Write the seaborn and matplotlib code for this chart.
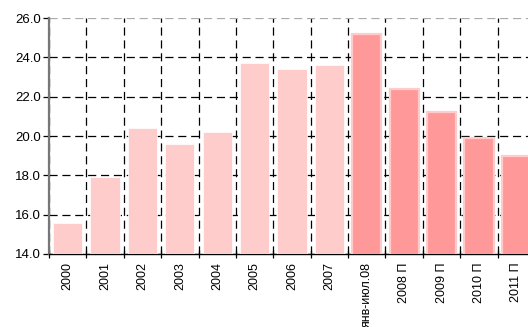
import matplotlib
matplotlib.use("Agg")
import matplotlib.pyplot as plt
import seaborn as sns
import pandas as pd
import numpy as np
from matplotlib.ticker import FormatStrFormatter, MultipleLocator

periods = ["2000", "2001", "2002", "2003", "2004", "2005", "2006", "2007",
           "янв-июл.08", "2008 П", "2009 П", "2010 П", "2011 П"]
values = [15.6, 17.9, 20.4, 19.6, 20.2, 23.7, 23.4, 23.6,
          25.2, 22.4, 21.2, 19.9, 19.0]
is_forecast = [False] * 8 + [True] * 5

fact_color = "#FFCCCC"
forecast_color = "#FF9999"

df = pd.DataFrame({"period": periods, "value": values})
colors = [forecast_color if f else fact_color for f in is_forecast]

sns.set_style("white")
plt.rcParams["font.family"] = ["Liberation Sans", "DejaVu Sans"]

fig = plt.figure(figsize=(5.28, 3.27), dpi=100)
ax = fig.add_axes([49 / 528, 73 / 327, 486 / 528, 236 / 327])

sns.barplot(data=df, x="period", y="value", hue="period", palette=colors,
            legend=False, width=0.78, ax=ax, saturation=1)

for patch, f in zip(ax.patches, is_forecast):
    if f:
        patch.set_edgecolor(fact_color)
        patch.set_linewidth(1.6)
    else:
        patch.set_edgecolor("white")
        patch.set_linewidth(0.5)
    patch.set_zorder(3)

ax.set_ylim(14, 26)
ax.set_xlim(-0.5, len(periods) - 0.5)
ax.yaxis.set_major_locator(MultipleLocator(2))
ax.yaxis.set_major_formatter(FormatStrFormatter("%.1f"))

ax.set_xticks(np.arange(-0.5, len(periods), 1.0), minor=True)
ax.set_xticks(range(len(periods)))
ax.set_xticklabels(periods, rotation=90, va="top", ha="center")

dash = (0, (6.5, 3.8))
ax.grid(axis="y", which="major", color="black", linestyle=dash, linewidth=0.9)
ax.grid(axis="x", which="minor", color="black", linestyle=dash, linewidth=0.9)
ax.grid(axis="x", which="major", visible=False)
ax.set_axisbelow(True)

fig.canvas.draw()
for tick in ax.yaxis.get_major_ticks():
    if abs(tick.get_loc() - 26) < 1e-6:
        tick.gridline.set_color("#aaaaaa")

ax.tick_params(axis="x", which="major", length=0, pad=6, labelsize=9, colors="black")
ax.tick_params(axis="x", which="minor", length=6, width=0.9, direction="inout",
               bottom=True, color="black")
ax.tick_params(axis="y", which="major", length=4, width=0.9, direction="out",
               left=True, labelsize=9.5, pad=2, color="black", labelcolor="black")

for side in ("top", "right"):
    ax.spines[side].set_visible(False)
ax.spines["left"].set_color("#777777")
ax.spines["left"].set_linewidth(1.6)
ax.spines["bottom"].set_color("black")
ax.spines["bottom"].set_linewidth(1.0)

ax.set_xlabel("")
ax.set_ylabel("")

fig.savefig("out.png", dpi=100)
